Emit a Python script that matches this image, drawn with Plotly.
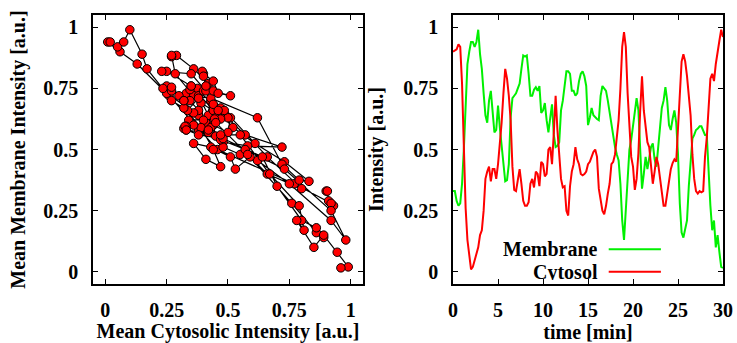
import plotly.graph_objects as go
from plotly.subplots import make_subplots

# time in minutes (sampling every 0.2 min)
time_min = [round(i * 0.2, 1) for i in range(151)]

membrane = [
    0.33, 0.33, 0.29, 0.27, 0.28, 0.36, 0.50, 0.72, 0.85, 0.90,
    0.94, 0.94, 0.92, 0.94, 0.99, 0.89, 0.83, 0.73, 0.64, 0.61,
    0.70, 0.74, 0.64, 0.57, 0.58, 0.68, 0.59, 0.525, 0.45, 0.37,
    0.375, 0.44, 0.63, 0.71, 0.72, 0.73, 0.75, 0.77, 0.83, 0.885,
    0.88, 0.885, 0.81, 0.72, 0.72, 0.745, 0.755, 0.74, 0.76, 0.65,
    0.66, 0.69, 0.62, 0.57, 0.63, 0.685, 0.56, 0.51, 0.515, 0.53,
    0.66, 0.70, 0.76, 0.82, 0.82, 0.81, 0.74, 0.74, 0.72, 0.73,
    0.78, 0.81, 0.82, 0.80, 0.76, 0.60, 0.63, 0.67, 0.64, 0.63,
    0.625, 0.62, 0.72, 0.76, 0.75, 0.74, 0.70, 0.65, 0.60, 0.555,
    0.51, 0.48, 0.455, 0.36, 0.21, 0.13, 0.25, 0.42, 0.50, 0.54,
    0.59, 0.66, 0.71, 0.66, 0.47, 0.34, 0.40, 0.47, 0.42, 0.47,
    0.51, 0.525, 0.46, 0.43, 0.50, 0.59, 0.67, 0.70, 0.755, 0.70,
    0.60, 0.58, 0.625, 0.66, 0.61, 0.48, 0.28, 0.16, 0.14, 0.18,
    0.21, 0.35, 0.47, 0.545, 0.56, 0.58, 0.586, 0.595, 0.595, 0.58,
    0.56, 0.56, 0.40, 0.27, 0.17, 0.21, 0.10, 0.15, 0.08, 0.02,
    0.016,
]

cytosol = [
    0.90, 0.905, 0.91, 0.93, 0.92, 0.77, 0.457, 0.26, 0.13, 0.06,
    0.01, 0.02, 0.05, 0.075, 0.10, 0.15, 0.17, 0.25, 0.38, 0.41,
    0.43, 0.37, 0.42, 0.42, 0.38, 0.44, 0.52, 0.61, 0.73, 0.83,
    0.79, 0.72, 0.62, 0.43, 0.335, 0.33, 0.375, 0.42, 0.36, 0.29,
    0.27, 0.27, 0.285, 0.36, 0.38, 0.345, 0.41, 0.40, 0.35, 0.45,
    0.44, 0.39, 0.40, 0.50, 0.51, 0.44, 0.57, 0.72, 0.58, 0.48,
    0.38, 0.345, 0.35, 0.25, 0.23, 0.35, 0.41, 0.44, 0.51, 0.46,
    0.44, 0.40, 0.395, 0.40, 0.41, 0.44, 0.45, 0.47, 0.49, 0.50,
    0.47, 0.34, 0.30, 0.25, 0.235, 0.27, 0.32, 0.36, 0.44, 0.45,
    0.48, 0.55, 0.62, 0.75, 0.92, 0.98, 0.92, 0.73, 0.57, 0.47,
    0.43, 0.335, 0.38, 0.485, 0.66, 0.80, 0.66, 0.59, 0.53, 0.51,
    0.43, 0.36, 0.41, 0.47, 0.44, 0.39, 0.32, 0.27, 0.27, 0.32,
    0.36, 0.42, 0.445, 0.46, 0.45, 0.58, 0.76, 0.86, 0.89, 0.86,
    0.80, 0.70, 0.64, 0.48, 0.38, 0.33, 0.32, 0.33, 0.325, 0.33,
    0.47, 0.55, 0.67, 0.79, 0.81, 0.78, 0.85, 0.89, 0.945, 0.99,
    0.96,
]

scatter_ticks = [0, 0.25, 0.5, 0.75, 1]
scatter_ticktext = ["0", "0.25", "0.5", "0.75", "1"]
time_ticks = [0, 5, 10, 15, 20, 25, 30]

FONT = "Liberation Serif, Times New Roman, serif"
GREEN = "#00f000"
RED = "#ff0000"

fig = make_subplots(rows=1, cols=2)

fig.add_trace(go.Scatter(
    x=cytosol, y=membrane, mode="lines+markers",
    line=dict(color="black", width=1.2),
    marker=dict(size=8.5, color="#ff0000", line=dict(color="black", width=1)),
    showlegend=False,
), row=1, col=1)

fig.add_trace(go.Scatter(
    x=time_min, y=membrane, mode="lines",
    line=dict(color=GREEN, width=2), name="Membrane", showlegend=False,
), row=1, col=2)
fig.add_trace(go.Scatter(
    x=time_min, y=cytosol, mode="lines",
    line=dict(color=RED, width=2), name="Cytosol", showlegend=False,
), row=1, col=2)

axis_common = dict(
    showline=True, linecolor="black", linewidth=1.5, mirror="allticks",
    ticks="inside", ticklen=5, tickcolor="black", tickwidth=1,
    showgrid=False, zeroline=False, automargin=False,
    tickfont=dict(family=FONT, size=20, color="black", weight="bold"),
)

fig.update_xaxes(axis_common)
fig.update_yaxes(axis_common)

fig.update_xaxes(domain=[0.1262, 0.4925], range=[-0.05, 1.05],
                 tickvals=scatter_ticks, ticktext=scatter_ticktext,
                 ticklabelstandoff=7,
                 title=dict(text="<b>Mean Cytosolic Intensity [a.u.]</b>",
                            font=dict(family=FONT, size=20, color="black"),
                            standoff=25),
                 row=1, col=1)
fig.update_yaxes(domain=[0.172, 0.956], range=[-0.05, 1.05],
                 tickvals=scatter_ticks, ticktext=scatter_ticktext,
                 ticklabelstandoff=9,
                 title=dict(text="<b>Mean Membrane Intensity [a.u.]</b>",
                            font=dict(family=FONT, size=20, color="black"),
                            standoff=12),
                 row=1, col=1)
fig.update_xaxes(domain=[0.6147, 0.981], range=[0, 30],
                 tickvals=time_ticks,
                 ticklabelstandoff=7,
                 title=dict(text="<b>time [min]</b>",
                            font=dict(family=FONT, size=20, color="black"),
                            standoff=25),
                 row=1, col=2)
fig.update_yaxes(domain=[0.172, 0.956], range=[-0.05, 1.05],
                 tickvals=scatter_ticks, ticktext=scatter_ticktext,
                 ticklabelstandoff=9,
                 title=dict(text="<b>Intensity [a.u.]</b>",
                            font=dict(family=FONT, size=20, color="black"),
                            standoff=14),
                 row=1, col=2)

# gnuplot-style key: text on the left, line sample on the right
legend_items = [("Membrane", GREEN, 0.092), ("Cytosol", RED, 0.0)]
for label, color, yv in legend_items:
    fig.add_annotation(xref="x2", yref="y2", x=16.2, y=yv, text="<b>" + label + "</b>",
                       showarrow=False, xanchor="right", yanchor="middle",
                       height=16, borderpad=0, valign="middle",
                       font=dict(family=FONT, size=20, color="black"))
    fig.add_shape(type="line", xref="x2", yref="y2", x0=17.3, x1=23.1, y0=yv, y1=yv,
                  line=dict(color=color, width=2))

fig.update_layout(
    width=737, height=343,
    margin=dict(l=0, r=0, t=0, b=0),
    paper_bgcolor="white", plot_bgcolor="white",
    font=dict(family=FONT, size=20, color="black"),
)

fig.write_html("out.html")
